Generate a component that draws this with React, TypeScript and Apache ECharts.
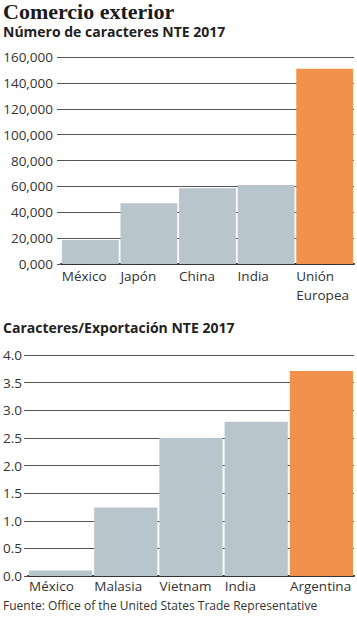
import React, { useEffect, useRef } from "react";
import * as echarts from "echarts";

const cats1 = ["México", "Japón", "China", "India", "Unión\nEuropea"];
const vals1 = [18500, 47000, 58500, 61000, 151000];
const ticks1 = ["0,000", "20,000", "40,000", "60,000", "80,000", "100,000", "120,000", "140,000", "160,000"];

const cats2 = ["México", "Malasia", "Vietnam", "India", "Argentina"];
const vals2 = [0.1, 1.24, 2.5, 2.79, 3.71];
const ticks2 = ["0.0", "0.5", "1.0", "1.5", "2.0", "2.5", "3.0", "3.5", "4.0"];

const GRAY = "#b9c5cc";
const ORANGE = "#f2914b";
const FONT = "'Open Sans', sans-serif";

export default function App() {
  const ref = useRef<HTMLDivElement>(null);
  useEffect(() => {
    document.body.style.margin = "0";
    const chart = echarts.init(ref.current!, null, { renderer: "svg" });
    const yAxisCommon = (ticks: string[], interval: number, max: number, margin: number) => ({
      type: "value",
      min: 0,
      max,
      interval,
      axisLine: { show: false },
      axisTick: { show: true, length: 4, lineStyle: { color: "#555", width: 1 } },
      splitLine: { show: true, lineStyle: { color: "#555", width: 1 } },
      axisLabel: {
        margin,
        color: "#333",
        fontFamily: FONT,
        fontSize: 13.5,
        verticalAlign: "middle",
        padding: [0, 0, 8, 0],
        formatter: (v: number) => ticks[Math.round(v / interval)] ?? "",
      },
    });
    const xAxisCommon = (cats: string[], gridIndex: number, w: number, margin: number, lh: number) => ({
      type: "category",
      gridIndex,
      data: cats,
      axisLine: { show: true, lineStyle: { color: "#333", width: 2 } },
      axisTick: { show: false },
      axisLabel: {
        margin,
        interval: 0,
        align: "center",
        formatter: (v: string) => v.split("\n").map((s) => `{a|${s}}`).join("\n"),
        rich: {
          a: { width: w, align: "left", color: "#333", fontFamily: FONT, fontSize: 13.5, lineHeight: lh },
        },
      },
    });
    chart.setOption({
      animation: false,
      backgroundColor: "#fff",
      grid: [
        { left: 61, right: 3, top: 57, height: 207 },
        { left: 27, right: 3, top: 355, height: 221 },
      ],
      xAxis: [xAxisCommon(cats1, 0, 57, 3, 18.5), xAxisCommon(cats2, 1, 63, 3, 14)],
      yAxis: [
        { ...yAxisCommon(ticks1, 20000, 160000, 8), gridIndex: 0 },
        { ...yAxisCommon(ticks2, 0.5, 4, 6), gridIndex: 1 },
      ],
      series: [
        {
          type: "bar",
          xAxisIndex: 0,
          yAxisIndex: 0,
          barCategoryGap: "3%",
          data: vals1.map((v, i) => ({ value: v, itemStyle: { color: i === vals1.length - 1 ? ORANGE : GRAY } })),
        },
        {
          type: "bar",
          xAxisIndex: 1,
          yAxisIndex: 1,
          barCategoryGap: "3%",
          data: vals2.map((v, i) => ({ value: v, itemStyle: { color: i === vals2.length - 1 ? ORANGE : GRAY } })),
        },
      ],
      graphic: [
        {
          type: "text",
          left: 3,
          top: 0,
          style: { text: "Comercio exterior", fontFamily: "'Liberation Serif', serif", fontWeight: "bold", fontSize: 22, fill: "#1a1a1a" },
        },
        {
          type: "text",
          left: 3,
          top: 24,
          style: { text: "Número de caracteres NTE 2017", fontFamily: FONT, fontWeight: "bold", fontSize: 14, fill: "#222" },
        },
        {
          type: "text",
          left: 3,
          top: 320,
          style: { text: "Caracteres/Exportación NTE 2017", fontFamily: FONT, fontWeight: "bold", fontSize: 14, fill: "#222" },
        },
        {
          type: "text",
          left: 3,
          top: 599,
          style: { text: "Fuente: Office of the United States Trade Representative", fontFamily: FONT, fontSize: 12, fill: "#333" },
        },
      ],
    });
    return () => chart.dispose();
  }, []);
  return <div ref={ref} style={{ position: "fixed", left: 0, top: 0, width: 357, height: 620 }} />;
}
